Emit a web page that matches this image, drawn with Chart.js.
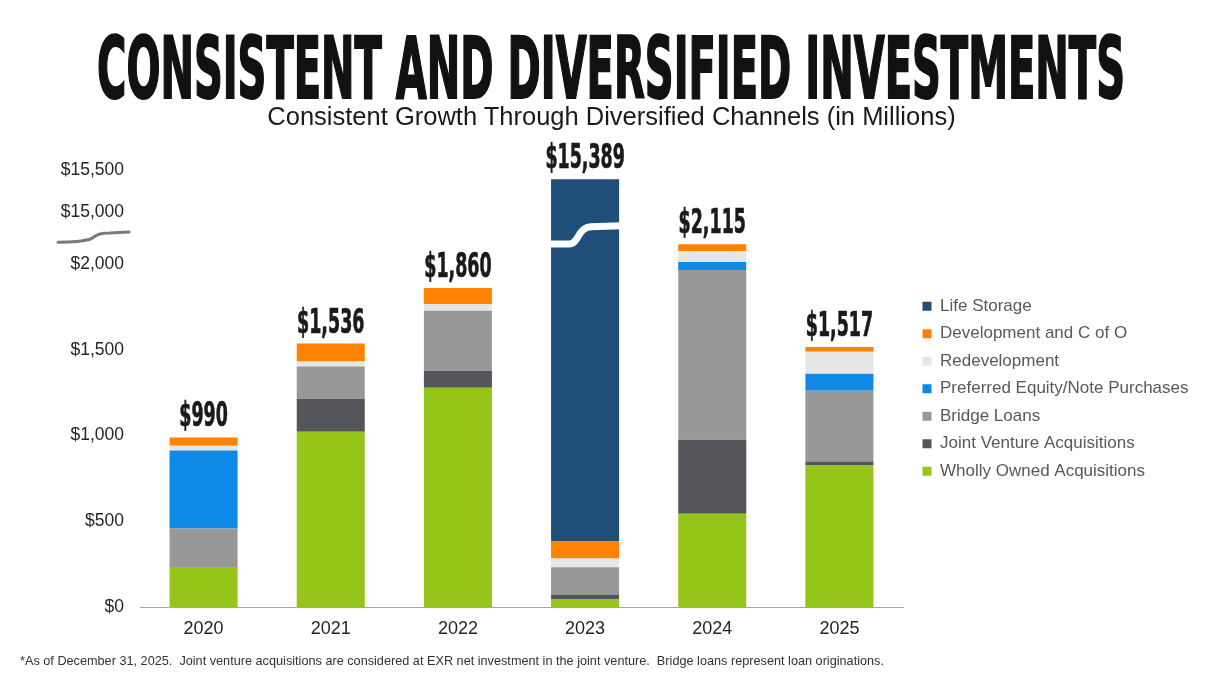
<!DOCTYPE html>
<html><head><meta charset="utf-8">
<script src="https://cdn.jsdelivr.net/npm/chart.js@4/dist/chart.umd.min.js"></script>
<style>
html,body{margin:0;padding:0;background:#fff;}
#wrap{position:relative;width:1223px;height:686px;overflow:hidden;background:#fff;}
#c{position:absolute;left:0;top:0;}
.t{position:absolute;white-space:nowrap;}
#title{left:0;width:1223px;top:23px;text-align:left;font-family:'DejaVu Sans Condensed','Liberation Sans',sans-serif;font-weight:bold;font-size:86px;line-height:90px;color:#111;}
#title span{display:inline-block;-webkit-text-stroke:2px #111;transform-origin:0 50%;}
#sub{left:0;width:1223px;top:104px;text-align:center;font-family:'Liberation Sans',Arial,sans-serif;font-size:25.5px;line-height:25.5px;color:#1a1a1a;}
#foot{left:20px;top:654px;font-family:'Liberation Sans',sans-serif;font-size:13px;line-height:13px;color:#333;}
#foot span{display:inline-block;transform-origin:0 50%;}
</style></head>
<body><div id="wrap">
<canvas id="c" width="1223" height="686"></canvas>
<div class="t" id="title"><span>CONSISTENT AND DIVERSIFIED INVESTMENTS</span></div>
<div class="t" id="sub">Consistent Growth Through Diversified Channels (in Millions)</div>
<div class="t" id="foot"><span>*As of December 31, 2025.&nbsp; Joint venture acquisitions are considered at EXR net investment in the joint venture.&nbsp; Bridge loans represent loan originations.</span></div>
</div>
<script>
const categories = ['2020','2021','2022','2023','2024','2025'];
const whollyOwned     = [232, 1023, 1279, 46, 546, 826];
const jointVenture    = [4, 192, 99, 29, 430, 23];
const bridgeLoans     = [223, 188, 349, 159, 988, 413];
const preferredEquity = [454, 0, 0, 0, 47, 98];
const redevelopment   = [29, 29, 40, 51, 64, 128];
const development     = [48, 104, 93, 99, 40, 29];
const lifeStorage     = [0, 0, 0, 15005, 0, 0];
const yTickValues = [0, 500, 1000, 1500, 2000, 15000, 15500];
const yTickLabels = ['$0', '$500', '$1,000', '$1,500', '$2,000', '$15,000', '$15,500'];

// broken axis mapping
const BREAK_AT = 2200, UPPER_START = 15000, UPPER_POS = 2302, UPPER_RATIO = 0.49;
function toAxis(v){ return v <= BREAK_AT ? v : UPPER_POS + (v - UPPER_START) * UPPER_RATIO; }

const seriesList = [
  {label:'Wholly Owned Acquisitions', data: whollyOwned, color:'#94C518'},
  {label:'Joint Venture Acquisitions', data: jointVenture, color:'#54565B'},
  {label:'Bridge Loans', data: bridgeLoans, color:'#989898'},
  {label:'Preferred Equity/Note Purchases', data: preferredEquity, color:'#0E8AE6'},
  {label:'Redevelopment', data: redevelopment, color:'#E6E6E6'},
  {label:'Development and C of O', data: development, color:'#FF8200'},
  {label:'Life Storage', data: lifeStorage, color:'#1F4E79'}
];
const cum = categories.map(()=>0);
const datasets = seriesList.map(s => {
  const d = s.data.map((v,i) => {
    const a = cum[i], b = cum[i] + v; cum[i] = b;
    return v > 0 ? [toAxis(a), toAxis(b)] : null;
  });
  return {label:s.label, data:d, backgroundColor:s.color, borderWidth:0, borderSkipped:false};
});
const totals = cum.slice();

const FONT = "'Liberation Sans', Arial, sans-serif";
const LEGEND_W = 311;

const extras = {
  id:'extras',
  afterInit(chart){
    const lg = chart.legend;
    if (lg) { const of = lg.fit.bind(lg); lg.fit = function(){ of(); this.width = LEGEND_W; }; }
  },
  afterDatasetsDraw(chart){
    const ctx = chart.ctx, xs = chart.scales.x, ys = chart.scales.y;
    // bar break on the tall bar
    const meta = chart.getDatasetMeta(6);
    meta.data.forEach((el,i) => {
      if (!chart.data.datasets[6].data[i]) return;
      const l = el.x - el.width/2 - 2, r = el.x + el.width/2 + 2;
      const yL = ys.getPixelForValue(2116), yR = ys.getPixelForValue(2222);
      ctx.save();
      ctx.strokeStyle = '#fff'; ctx.lineWidth = 7;
      ctx.beginPath();
      ctx.moveTo(l, yL);
      ctx.lineTo(l + 20, yL);
      ctx.bezierCurveTo(l + 30, yL, l + 28, yR + 2, l + 42, yR + 1);
      ctx.lineTo(r, yR);
      ctx.stroke();
      ctx.restore();
    });
    // axis break squiggle
    const a = chart.chartArea.left;
    const y1 = ys.getPixelForValue(2126), y2 = ys.getPixelForValue(2180);
    ctx.save();
    ctx.strokeStyle = '#7a7a7a'; ctx.lineWidth = 3; ctx.lineCap='round';
    ctx.beginPath();
    ctx.moveTo(a - 82, y1);
    ctx.quadraticCurveTo(a - 60, y1, a - 50, y1 - 3);
    ctx.bezierCurveTo(a - 44, y1 - 6, a - 44, y2, a - 30, y2);
    ctx.lineTo(a - 11, y2 - 1);
    ctx.stroke();
    ctx.restore();
    // total labels
    ctx.save();
    ctx.fillStyle = '#1a1a1a'; ctx.strokeStyle = '#1a1a1a'; ctx.lineWidth = 0.7;
    ctx.font = "bold 34px 'DejaVu Sans Condensed', 'Liberation Sans', sans-serif";
    ctx.textAlign = 'center'; ctx.textBaseline = 'alphabetic';
    totals.forEach((t,i) => {
      const x = xs.getPixelForValue(i);
      const y = ys.getPixelForValue(toAxis(t)) - 11;
      const txt = '$' + t.toLocaleString('en-US');
      ctx.save(); ctx.translate(x, y); ctx.scale(0.57, 1);
      ctx.fillText(txt, 0, 0); ctx.strokeText(txt, 0, 0);
      ctx.restore();
    });
    ctx.restore();
  }
};

new Chart(document.getElementById('c'), {
  type:'bar',
  data:{labels:categories, datasets},
  options:{
    responsive:false, animation:false, devicePixelRatio:1,
    layout:{padding:{top:170, left:60, right:0, bottom:35}},
    datasets:{bar:{barPercentage:0.535, categoryPercentage:1}},
    scales:{
      x:{stacked:true, grid:{display:false, drawTicks:false}, border:{color:'#A6A6A6', width:1},
         ticks:{color:'#262626', font:{family:FONT, size:18}, padding:11}},
      y:{stacked:false, min:0, max:toAxis(15500), grid:{display:false, drawTicks:false}, border:{display:false},
         afterBuildTicks: ax => { ax.ticks = yTickValues.map(v => ({value: toAxis(v)})); },
         ticks:{callback:(v,idx) => yTickLabels[idx], padding:16, color:'#262626', font:{family:FONT, size:17.5}},
         afterFit: ax => { ax.width = 80; }},
      yPad:{type:'linear', position:'right', display:true, grid:{display:false, drawTicks:false}, border:{display:false},
         ticks:{display:false}, afterFit: ax => { ax.width = 9; }}
    },
    plugins:{
      legend:{position:'right', fullSize:false, reverse:true,
        labels:{boxWidth:9, boxHeight:9, padding:10.5, color:'#595959', font:{family:FONT, size:17}}},
      tooltip:{enabled:false}
    }
  },
  plugins:[extras]
});

// fit title / footnote widths
function fitSpan(sel, x0, w){ const s=document.querySelector(sel); const cw=s.getBoundingClientRect().width; s.style.transform='translateX('+x0+'px) scaleX('+(w/cw)+')'; }
fitSpan('#title span', 97, 1028);
fitSpan('#foot span', 0, 864);
</script>
</body></html>
